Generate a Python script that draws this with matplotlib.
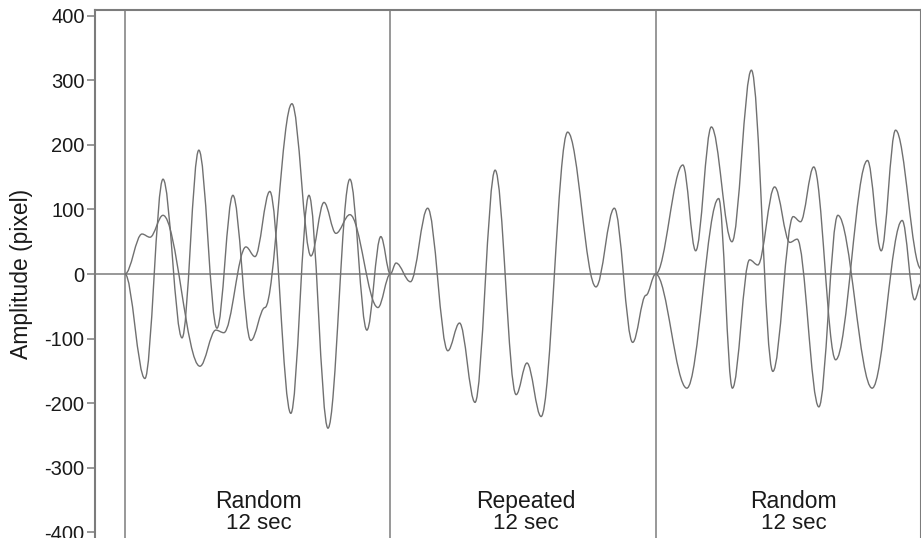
import matplotlib
matplotlib.use("Agg")
import matplotlib.pyplot as plt
from matplotlib.path import Path
from matplotlib.patches import PathPatch

plt.rcParams['font.family'] = ['Liberation Sans', 'DejaVu Sans']
plt.rcParams['axes.unicode_minus'] = False

# traces: time in seconds, amplitude in pixels
# first 12 s block (random), two traces
rand1_a_t = [0.00, 0.90, 1.72, 2.58, 3.34, 4.16, 4.88, 5.69, 6.33, 7.55, 8.41, 9.00, 9.54, 10.17, 11.44, 12.00]
rand1_a_v = [0, -162, 147, -99, 192, -84, 122, -103, -52, 264, 28, 111, 63, 92, -52, 0]
rand1_b_t = [0.00, 0.77, 1.13, 1.72, 3.39, 4.11, 4.47, 5.47, 5.88, 6.55, 7.50, 8.32, 9.18, 10.17, 10.94, 11.57, 12.00]
rand1_b_v = [0, 62, 57, 91, -143, -87, -91, 42, 27, 128, -216, 122, -239, 147, -87, 58, 0]

# middle block (repeated), one trace
rep_t = [12.00, 12.26, 12.91, 13.69, 14.60, 15.13, 15.83, 16.74, 17.69, 18.18, 18.82, 20.02, 21.30, 22.13, 22.96, 23.56, 24.00]
rep_v = [0, 17, -12, 102, -119, -76, -199, 161, -187, -138, -221, 220, -20, 102, -106, -33, 0]

# last block (random), two traces
rand2_a_t = [24.00, 25.23, 25.81, 26.52, 27.45, 28.33, 29.30, 30.22, 30.55, 31.15, 32.14, 33.58, 34.20, 34.85, 36.00]
rand2_a_v = [0, 169, 36, 228, 50, 316, -151, 89, 81, 166, -133, 176, 36, 223, 8]
rand2_b_t = [24.00, 25.41, 26.85, 27.47, 28.25, 28.62, 29.38, 30.07, 30.40, 31.38, 32.24, 33.79, 35.15, 35.71, 36.00]
rand2_b_v = [0, -177, 117, -177, 22, 14, 135, 49, 54, -206, 91, -177, 83, -40, -15]

seg_bounds = [0, 12, 24]
seg_names = ['Random', 'Repeated', 'Random']
seg_label_x = [6.05, 18.15, 30.25]
seg_dur = '12 sec'
yticks = [-400, -300, -200, -100, 0, 100, 200, 300, 400]

trace_col = '#707070'
frame_col = '#7c7c7c'


def smooth_path(t, v, k=0.36):
    # cubic segments with flat tangents at each read point
    verts = [(t[0], v[0])]
    codes = [Path.MOVETO]
    for i in range(1, len(t)):
        dt = t[i] - t[i - 1]
        verts += [(t[i - 1] + k * dt, v[i - 1]), (t[i] - k * dt, v[i]), (t[i], v[i])]
        codes += [Path.CURVE4] * 3
    return Path(verts, codes)


fig = plt.figure(figsize=(9.21, 5.38), dpi=100)
ax = fig.add_axes([95 / 921, 0, 1 - 95 / 921, 528 / 538])

ax.set_xlim(-1.356, 36.0)
ax.set_ylim(-409.3, 409.3)

for xb in seg_bounds:
    ax.axvline(xb, color=frame_col, lw=1.1, zorder=1)
ax.axhline(0, color=frame_col, lw=1.1, zorder=1)

traces = [(rand1_a_t, rand1_a_v), (rand1_b_t, rand1_b_v), (rep_t, rep_v),
          (rand2_a_t, rand2_a_v), (rand2_b_t, rand2_b_v)]
for t, v in traces:
    ax.add_patch(PathPatch(smooth_path(t, v), fill=False, ec=trace_col, lw=1.0, zorder=2))

for x, name in zip(seg_label_x, seg_names):
    ax.text(x, -363, name, ha='center', va='baseline', fontsize=16.5, color='#1a1a1a')
    ax.text(x, -396, seg_dur, ha='center', va='baseline', fontsize=16, color='#1a1a1a')

ax.set_yticks(yticks)
ax.set_xticks([])
ax.tick_params(axis='y', direction='out', length=5.5, width=1.1, color=frame_col,
               labelsize=14.5, labelcolor='#1a1a1a', pad=2)
ax.spines['bottom'].set_visible(False)
for s in ['left', 'top', 'right']:
    ax.spines[s].set_color(frame_col)
    ax.spines[s].set_linewidth(1.5)

ax.set_ylabel('Amplitude (pixel)', fontsize=16.5, color='#1a1a1a')
ax.yaxis.set_label_coords(-0.0745, 0.5)

fig.savefig('out.png', dpi=100)
